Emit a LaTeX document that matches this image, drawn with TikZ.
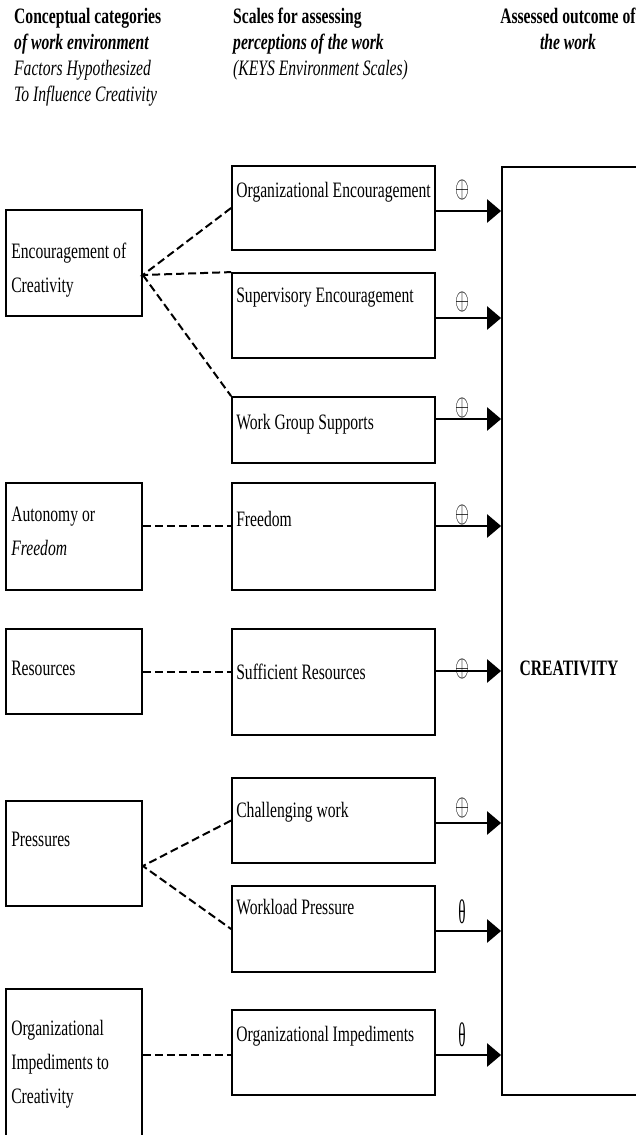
\documentclass[tikz,border=0pt]{standalone}
\usepackage{graphicx}
\usepackage{fontspec}
\setmainfont[FakeStretch=0.71]{Liberation Serif}
\newfontfamily\thetafont[FakeStretch=0.45]{Liberation Serif}
\usetikzlibrary{arrows.meta,positioning}

\newcommand{\posmark}{\scalebox{1.8}[3]{$\oplus$}}
\newcommand{\negmark}{{\thetafont\fontsize{34}{34}\selectfont θ}}

\tikzset{
  catbox/.style={rectangle, draw, line width=1.8pt, minimum width=136pt, inner sep=0pt},
  keysbox/.style={rectangle, draw, line width=1.8pt, minimum width=203pt, inner sep=0pt},
  txt/.style={font=\fontsize{22}{34}\selectfont, inner sep=0pt, anchor=west, align=left},
  head/.style={font=\fontsize{22}{26}\selectfont, inner sep=0pt, align=left},
  sign/.style={inner sep=0pt},
  link/.style={line width=2pt, dash pattern=on 8pt off 4pt},
  effect/.style={line width=2.6pt, -{Triangle[length=14pt,width=23pt]}}
}

\begin{document}
\begin{tikzpicture}[x=1pt, y=1pt]
\useasboundingbox (0,0) rectangle (636,-1135);
\clip (0,0) rectangle (636,-1135);

% column heads
\node[head, anchor=north west] (hcat) at (14,-8) {\textbf{Conceptual categories}\\\textbf{\textit{of work environment}}\\\textit{Factors Hypothesized}\\\textit{To Influence Creativity}};
\node[head, anchor=north west] (hkeys) at (233,-8) {\textbf{Scales for assessing}\\\textbf{\textit{perceptions of the work}}\\\textit{(KEYS Environment Scales)}};
\node[head, anchor=north, align=center] (hout) at (568,-8) {\textbf{Assessed outcome of}\\\textbf{\textit{the work}}};

% categories of work environment
\node[catbox, minimum height=106pt] (l1) at (74,-263) {};
\node[catbox, minimum height=107pt] (l2) at (74,-536.5) {};
\node[catbox, minimum height=85pt] (l3) at (74,-671.5) {};
\node[catbox, minimum height=105pt] (l4) at (74,-853.5) {};
\node[catbox, minimum height=151pt] (l5) at (74,-1064.5) {};

\node[txt] (c1) at ([xshift=6pt,yshift=-61.5pt]l1.north west) {Encouragement of\\Creativity};
\node[txt] (c2) at ([xshift=6pt,yshift=-49.5pt]l2.north west) {Autonomy or\\\textit{Freedom}};
\node[txt] (c3) at ([xshift=6pt,yshift=-40pt]l3.north west) {Resources};
\node[txt] (c4) at ([xshift=6pt,yshift=-39pt]l4.north west) {Pressures};
\node[txt] (c5) at ([xshift=6pt,yshift=-76pt]l5.north west) {Organizational\\Impediments to\\Creativity};

% KEYS scales
\foreach \n/\y/\h in {m1/208/84, m2/315.5/85, m3/430/66, m4/536.5/107, m5/682/106, m6/820.5/85, m7/929/86, m8/1052.5/85} {
    \node[keysbox, minimum height=\h pt] (\n) at (333.5,-\y) {};
}
\foreach \n/\dy/\t in {m1/27/Organizational Encouragement, m2/25/Supervisory Encouragement, m3/28/Work Group Supports, m4/37/Freedom, m5/44/Sufficient Resources, m6/35/Challenging work, m7/22/Workload Pressure, m8/27/Organizational Impediments} {
    \node[txt] (t\n) at ([xshift=5pt,yshift=-\dy pt]\n.north west) {\t};
}

% outcome
\node[draw, line width=1.8pt, minimum width=143pt, minimum height=928pt, inner sep=0pt] (big) at (573.5,-631) {};
\node[inner sep=0pt, font=\fontsize{22}{22}\selectfont\bfseries] (cr) at (569,-668) {CREATIVITY};

% dashed links
\coordinate (j1) at ([yshift=-12pt]l1.east);
\draw[link] (m1.west) -- (j1) -- (m2.north west);
\draw[link] (j1) -- (m3.north west);
\draw[link] ([yshift=10.5pt]l2.east) -- ([yshift=10.5pt]l2.east -| m4.west);
\draw[link] (l3.east) -- (l3.east -| m5.west);
\coordinate (j2) at ([yshift=-12.5pt]l4.east);
\draw[link] (m6.west) -- (j2) -- (m7.west);
\draw[link] ([yshift=9.5pt]l5.east) -- ([yshift=9.5pt]l5.east -| m8.west);

% effects on creativity
\foreach \n/\dy in {m1/-3, m2/-2.5, m3/11, m4/10.5, m5/11, m6/-2.5, m7/-2, m8/-2.5} {
    \draw[effect] ([yshift=\dy pt]\n.east) -- ([yshift=\dy pt]\n.east -| big.west);
}
\foreach \i/\y/\s in {1/190/\posmark, 2/302/\posmark, 3/408/\posmark, 4/515/\posmark, 5/669/\posmark, 6/808/\posmark, 7/912/\negmark, 8/1035/\negmark} {
    \node[sign] (s\i) at (462,-\y) {\s};
}
\end{tikzpicture}
\end{document}
